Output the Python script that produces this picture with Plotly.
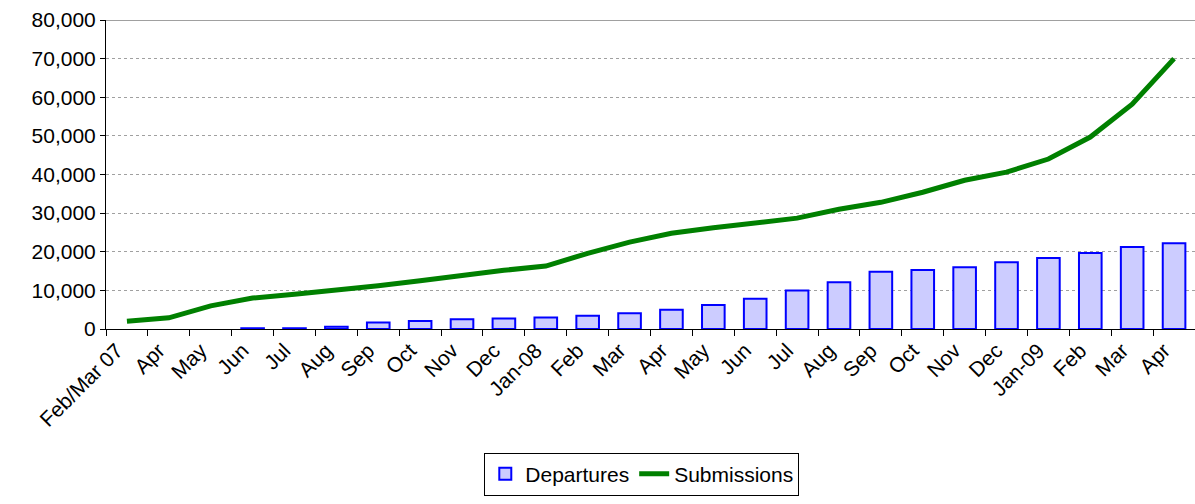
import plotly.graph_objects as go

categories = ["Feb/Mar 07", "Apr", "May", "Jun", "Jul", "Aug", "Sep", "Oct", "Nov", "Dec",
              "Jan-08", "Feb", "Mar", "Apr", "May", "Jun", "Jul", "Aug", "Sep", "Oct",
              "Nov", "Dec", "Jan-09", "Feb", "Mar", "Apr"]
departures = [None, None, None, 200, 200, 600, 1700, 2100, 2500, 2750,
              3000, 3400, 4100, 5000, 6200, 7800, 10000, 12100, 14800, 15300,
              16000, 17300, 18400, 19700, 21200, 22200]
submissions = [2000, 2900, 6000, 8000, 9000, 10000, 11200, 12500, 14000, 15200,
               16300, 19600, 22500, 24800, 26200, 27300, 28700, 31000, 32800, 35400,
               38500, 40600, 44000, 49700, 58200, 70000]
y_ticks = [0, 10000, 20000, 30000, 40000, 50000, 60000, 70000, 80000]

xs = list(range(len(categories)))
font = "Liberation Sans, Arial, sans-serif"

fig = go.Figure()
fig.add_trace(go.Bar(
    x=xs, y=departures, name="Departures", width=0.54,
    marker=dict(color="#CCCCFF", line=dict(color="#0000FF", width=2)),
))
fig.add_trace(go.Scatter(
    x=xs, y=submissions, name="Submissions", mode="lines",
    line=dict(color="#008000", width=5),
))

fig.update_layout(
    width=1195, height=504,
    margin=dict(l=106, r=0, t=20, b=175),
    paper_bgcolor="white", plot_bgcolor="white",
    font=dict(family=font, size=21, color="black"),
    showlegend=True,
    legend=dict(orientation="h", x=0.492, xanchor="center", y=-0.4, yanchor="top",
                bordercolor="black", borderwidth=1, font=dict(size=21),
                itemsizing="constant", tracegroupgap=0),
)
fig.update_xaxes(
    range=[-0.5, len(categories) - 0.5],
    tickmode="array", tickvals=xs, ticktext=categories, tickangle=-45,
    ticks="", showgrid=False, zeroline=False,
    showline=True, linecolor="black", linewidth=1,
    minor=dict(tickvals=[i - 0.5 for i in range(len(categories) + 1)],
               ticks="outside", ticklen=6, tickcolor="black", tickwidth=1, showgrid=False),
    tickfont=dict(size=21), ticklabelshift=-10,
)
fig.update_yaxes(
    range=[0, 80000], tickmode="array", tickvals=y_ticks,
    tickformat=",d", ticks="outside", ticklen=5, tickcolor="black",
    showgrid=True, gridcolor="#A0A0A0", griddash="dot", gridwidth=1,
    showline=True, linecolor="black", linewidth=1, zeroline=False,
    tickfont=dict(size=21),
)
fig.add_shape(type="line", xref="paper", yref="y", x0=0, x1=1, y0=80000, y1=80000,
              line=dict(color="#808080", width=1.5))

fig.write_html("out.html")
